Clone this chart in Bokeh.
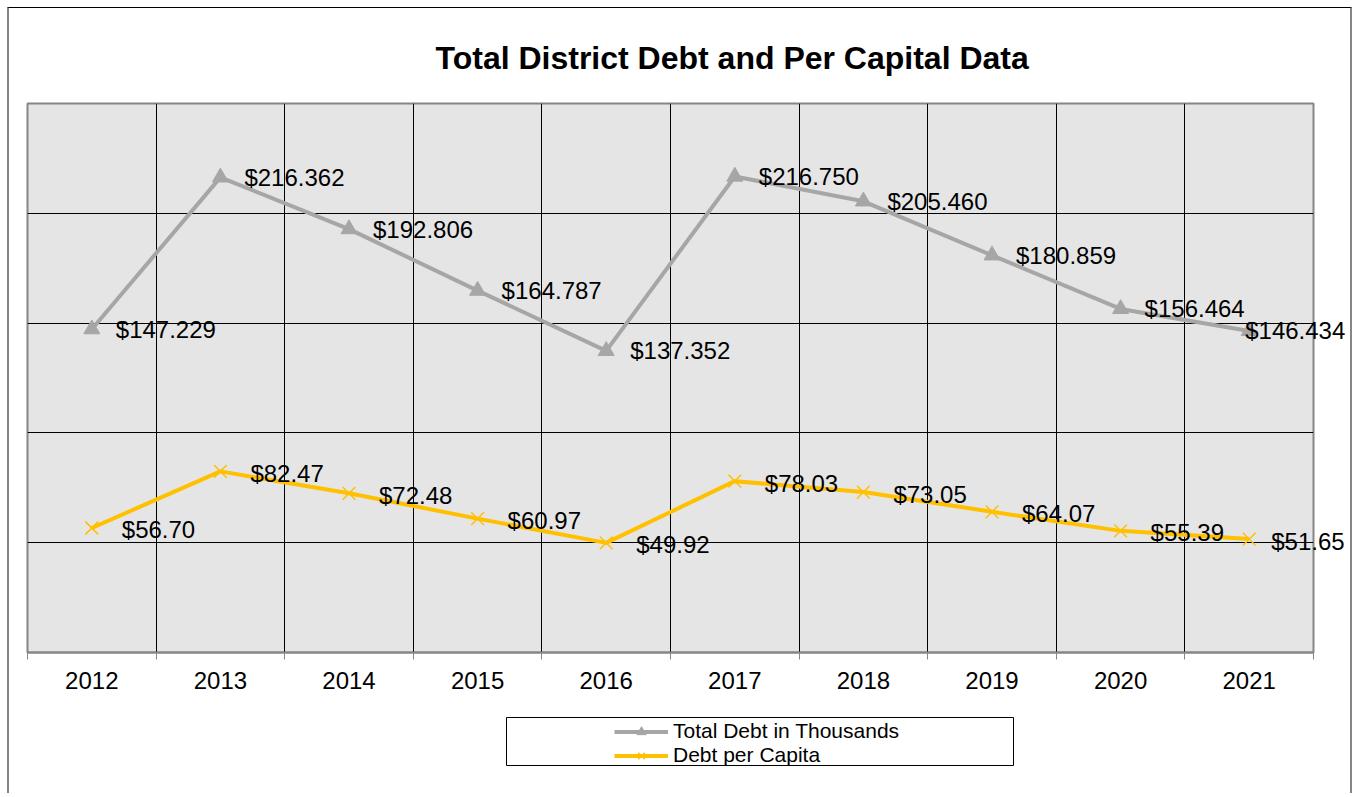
from bokeh.plotting import figure
from bokeh.models import Range1d, FixedTicker, Legend, LegendItem
from bokeh.layouts import column
from bokeh.embed import file_html
from bokeh.resources import INLINE
from bokeh.core.properties import value

# ---- data ----
years = ["2012", "2013", "2014", "2015", "2016", "2017", "2018", "2019", "2020", "2021"]
total_debt = [147.229, 216.362, 192.806, 164.787, 137.352, 216.750, 205.460, 180.859, 156.464, 146.434]
per_capita = [56.70, 82.47, 72.48, 60.97, 49.92, 78.03, 73.05, 64.07, 55.39, 51.65]
series_names = ["Total Debt in Thousands", "Debt per Capita"]

x = list(range(len(years)))
total_labels = [f"${v:.3f}" for v in total_debt]
capita_labels = [f"${v:.2f}" for v in per_capita]
boundaries = [i - 0.5 for i in range(len(years) + 1)]
last = len(years) - 1
# label offsets (px): the last labels are pulled left so they stay inside the chart
total_dx = [24 if i < last else -4 for i in x]
capita_dx = [30 if i < last else 22 for i in x]

FONT = "Liberation Sans"
GRAY = "#a6a6a6"
GOLD = "#ffc000"
FRAME = "#868686"

p = figure(width=1341, height=705,
           x_range=Range1d(-0.5, len(years) - 0.5), y_range=Range1d(0, 250),
           output_backend="svg", toolbar_location=None,
           min_border_left=18, min_border_right=37, min_border_top=95, min_border_bottom=61,
           background_fill_color="#e5e5e5", border_fill_color="white")
p.frame_align = False
p.outline_line_color = FRAME
p.outline_line_width = 2
p.yaxis.visible = False

p.title.text = "Total District Debt and Per Capital Data"
p.title.text_font = FONT
p.title.text_font_style = "bold"
p.title.text_font_size = "32px"
p.title.text_color = "black"
p.title.align = "left"
p.title.offset = 408
p.title.standoff = 56

ax = p.xaxis[0]
ax.ticker = FixedTicker(ticks=x, minor_ticks=boundaries)
ax.major_label_overrides = {i: yr for i, yr in enumerate(years)}
ax.major_tick_line_color = None
ax.major_tick_out = 0
ax.major_tick_in = 0
ax.minor_tick_line_color = FRAME
ax.minor_tick_in = 0
ax.minor_tick_out = 7
ax.axis_line_color = FRAME
ax.axis_line_width = 2
ax.major_label_text_font = FONT
ax.major_label_text_font_size = "24px"
ax.major_label_text_color = "black"
ax.major_label_standoff = 12

p.xgrid.ticker = FixedTicker(ticks=boundaries)
p.xgrid.grid_line_color = "black"
p.ygrid.ticker = FixedTicker(ticks=[50, 100, 150, 200])
p.ygrid.grid_line_color = "black"

p.line(x, total_debt, line_color=GRAY, line_width=4)
p.scatter(x, total_debt, marker="triangle", size=16, fill_color=GRAY, line_color=GRAY)
p.line(x, per_capita, line_color=GOLD, line_width=4)
p.scatter(x, per_capita, marker="x", size=18, line_color=GOLD, line_width=1.5)

p.text(x, total_debt, text=total_labels, x_offset=total_dx, text_baseline="middle", text_align="left",
       text_font=value(FONT), text_font_size="24px", text_color="black", level="overlay")
p.text(x, per_capita, text=capita_labels, x_offset=capita_dx, y_offset=2, text_baseline="middle",
       text_align="left", text_font=value(FONT), text_font_size="24px", text_color="black", level="overlay")

# ---- legend panel (series drawn out of view, only their legend swatches show) ----
p2 = figure(width=1341, height=80, x_range=Range1d(-0.5, len(years) - 0.5), y_range=Range1d(-2, -1),
            x_axis_type=None, y_axis_type=None,
            output_backend="svg", toolbar_location=None,
            min_border_left=497, min_border_right=337, min_border_top=4, min_border_bottom=28,
            background_fill_color="white", border_fill_color="white")
p2.frame_align = False
p2.grid.visible = False
p2.outline_line_color = "black"
p2.outline_line_width = 1
l1 = p2.line(x, total_debt, line_color=GRAY, line_width=4)
s1 = p2.scatter(x, total_debt, marker="triangle", size=13, fill_color=GRAY, line_color=GRAY)
l2 = p2.line(x, per_capita, line_color=GOLD, line_width=4)
s2 = p2.scatter(x, per_capita, marker="x", size=13, line_color=GOLD, line_width=1.5)
legend = Legend(items=[LegendItem(label=series_names[0], renderers=[l1, s1]),
                       LegendItem(label=series_names[1], renderers=[l2, s2])],
                location=(108, -2), border_line_color=None, background_fill_alpha=0,
                padding=0, spacing=0, margin=0, glyph_width=54, glyph_height=23,
                label_height=23, label_standoff=5,
                label_text_font=FONT, label_text_font_size="21px", label_text_color="black")
p2.add_layout(legend)

layout = column(p, p2, margin=(7, 0, 0, 7),
                styles={"border-left": "2px solid #868686",
                        "border-right": "2px solid #868686",
                        "border-top": "1px solid black"})

open("out.html", "w").write(file_html(layout, INLINE))
